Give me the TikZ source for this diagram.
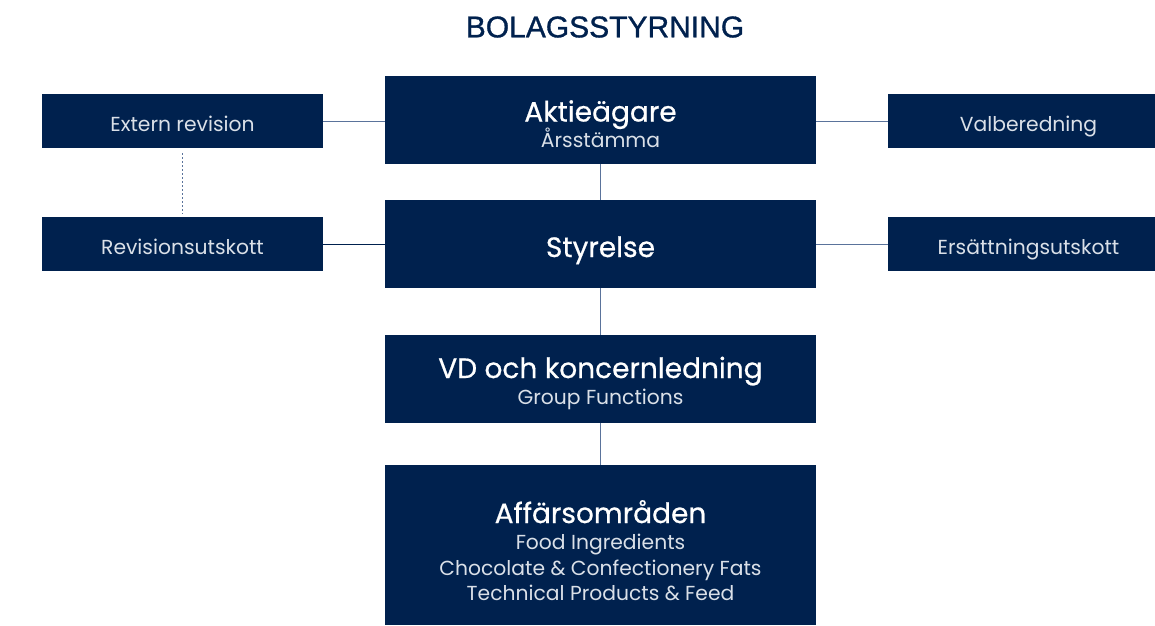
\documentclass[tikz,border=0pt]{standalone}
\usepackage{fontspec}
\setmainfont{Poppins}
\newfontfamily\titlefont[FakeBold=1]{Liberation Sans}
\newfontfamily\headfont[FakeBold=0.6]{Poppins}
\definecolor{navy}{RGB}{0,33,78}
\definecolor{subtxt}{RGB}{218,224,232}
\definecolor{conn}{RGB}{90,115,155}
\begin{document}
\begin{tikzpicture}[x=1pt,y=-1pt,
  box/.style={fill=navy,draw=none,inner sep=0pt,align=center},
  sidebox/.style={box,minimum width=281pt,minimum height=54pt},
  mainbox/.style={box,minimum width=431pt,minimum height=88pt},
  lbl/.style={anchor=base,inner sep=0pt,text=subtxt,font=\fontsize{20.3}{24}\selectfont},
  head/.style={anchor=base,inner sep=0pt,font=\headfont\fontsize{28}{32}\selectfont,text=white},
  conline/.style={draw=conn,line width=1pt},
  dotline/.style={draw=conn,line width=1.1pt,dash pattern=on 2pt off 2pt}]
\useasboundingbox (0,0) rectangle (1155,625);
\node[font=\titlefont\fontsize{30}{32}\selectfont,text=navy] (title) at (605,27) {BOLAGSSTYRNING};
% main column
\node[mainbox] (akt) at (600.5,120) {};
\node[head] (akth) at (600.5,121.5) {Aktieägare};
\node[lbl] (akts) at (600.5,147) {Årsstämma};
\node[mainbox] (sty) at (600.5,244) {};
\node[head] (styh) at (600.5,257) {Styrelse};
\node[mainbox] (vd) at (600.5,379) {};
\node[head] (vdh) at (600.5,378) {VD och koncernledning};
\node[lbl] (vds) at (600.5,404) {Group Functions};
\node[box,minimum width=431pt,minimum height=160pt] (aff) at (600.5,545) {};
\node[head] (affh) at (600.5,523) {Affärsområden};
\node[lbl] (aff1) at (600.5,549) {Food Ingredients};
\node[lbl] (aff2) at (600.5,575) {Chocolate \& Confectionery Fats};
\node[lbl] (aff3) at (600.5,600.5) {Technical Products \& Feed};
% side boxes
\node[sidebox] (ext) at (182.5,121) {};
\node[lbl] (extt) at (182.5,131) {Extern revision};
\node[sidebox] (rev) at (182.5,244) {};
\node[lbl] (revt) at (182.5,254) {Revisionsutskott};
\node[sidebox,minimum width=267pt] (val) at (1021.5,121) {};
\node[lbl] (valt) at (1028.5,131) {Valberedning};
\node[sidebox,minimum width=267pt] (ers) at (1021.5,244) {};
\node[lbl] (erst) at (1028.5,254) {Ersättningsutskott};
% connectors
\draw[conline] (ext.east) -- (ext.east -| akt.west);
\draw[conline,draw=navy] (rev.east) -- (rev.east -| sty.west);
\draw[conline] (val.west) -- (val.west -| akt.east);
\draw[conline] (ers.west) -- (ers.west -| sty.east);
\draw[conline] (akt.south) -- (sty.north);
\draw[conline] (sty.south) -- (vd.north);
\draw[conline] (vd.south) -- (aff.north);
\draw[dotline] ([yshift=-5pt]ext.south) -- ([yshift=3pt]rev.north);
\end{tikzpicture}
\end{document}
